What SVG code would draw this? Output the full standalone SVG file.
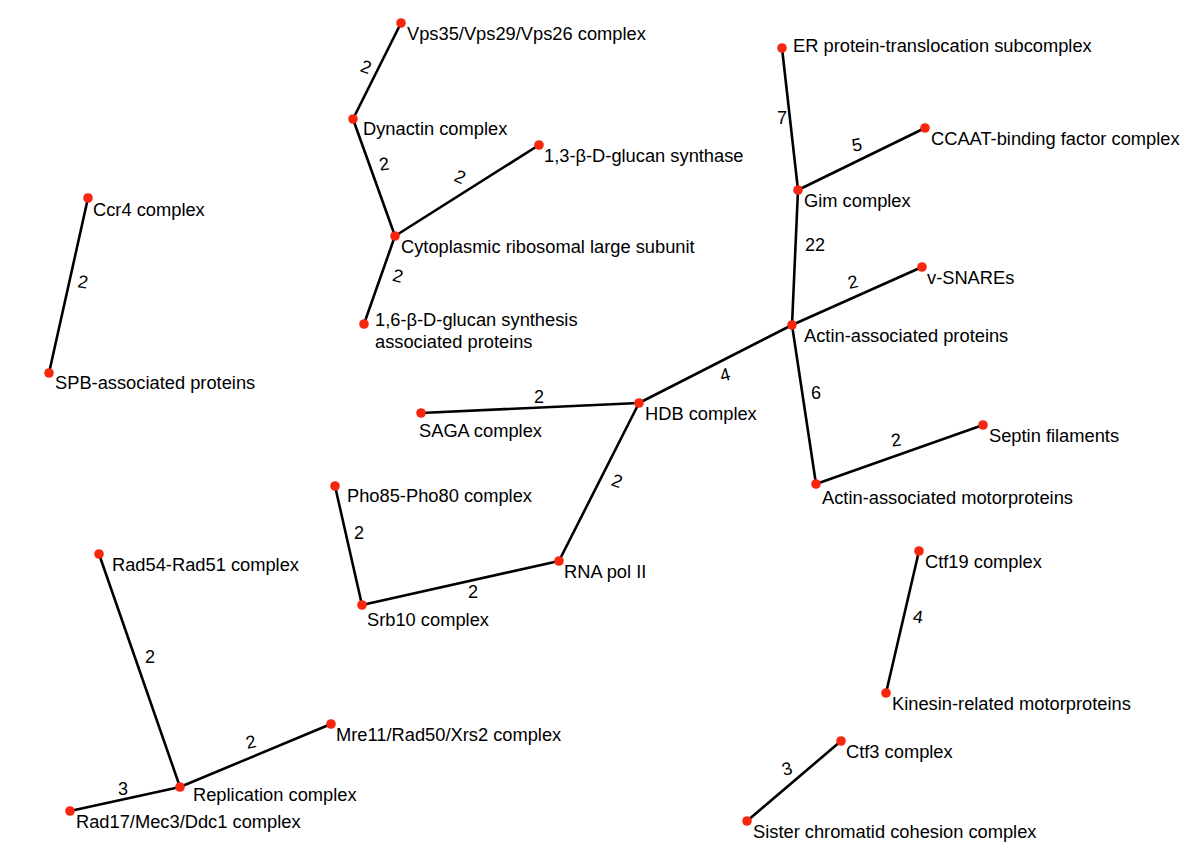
<svg xmlns="http://www.w3.org/2000/svg" width="1200" height="863" viewBox="0 0 1200 863">
<style>
.e{stroke:#000;stroke-width:2.6;fill:none;stroke-linecap:round}
.n{fill:#f5280f}
.t{font-family:"Liberation Sans",Arial,sans-serif;font-size:18.3px;fill:#000}
.w{font-family:"Liberation Sans",Arial,sans-serif;font-size:18px;fill:#000;text-anchor:middle;dominant-baseline:central}
</style>
<rect width="1200" height="863" fill="#fff"/>
<g id="connectors">
<line class="e" x1="401" y1="23" x2="353" y2="119"/>
<line class="e" x1="353" y1="119" x2="395" y2="236"/>
<line class="e" x1="395" y1="236" x2="539" y2="145"/>
<line class="e" x1="395" y1="236" x2="364" y2="324"/>
<line class="e" x1="782" y1="48" x2="798" y2="190"/>
<line class="e" x1="798" y1="190" x2="925" y2="128"/>
<line class="e" x1="798" y1="190" x2="792" y2="325"/>
<line class="e" x1="792" y1="325" x2="922" y2="267"/>
<line class="e" x1="792" y1="325" x2="639" y2="403"/>
<line class="e" x1="792" y1="325" x2="816" y2="484"/>
<line class="e" x1="816" y1="484" x2="983" y2="425"/>
<line class="e" x1="421" y1="413" x2="639" y2="403"/>
<line class="e" x1="639" y1="403" x2="559" y2="561"/>
<line class="e" x1="559" y1="561" x2="362" y2="605"/>
<line class="e" x1="335" y1="486" x2="362" y2="605"/>
<line class="e" x1="99" y1="554" x2="180" y2="787"/>
<line class="e" x1="180" y1="787" x2="331" y2="724"/>
<line class="e" x1="180" y1="787" x2="70" y2="811"/>
<line class="e" x1="919" y1="551" x2="886" y2="693"/>
<line class="e" x1="841" y1="741" x2="747" y2="821"/>
<line class="e" x1="88" y1="198" x2="49" y2="373"/>
<text class="w" transform="translate(366,67) rotate(20)">2</text>
<text class="w" transform="translate(384,164) rotate(-8)">2</text>
<text class="w" transform="translate(460,177) rotate(25)">2</text>
<text class="w" transform="translate(398,276) rotate(15)">2</text>
<text class="w" x="782" y="118">7</text>
<text class="w" transform="translate(857,145) rotate(-10)">5</text>
<text class="w" x="815" y="245">22</text>
<text class="w" transform="translate(853,282) rotate(-12)">2</text>
<text class="w" transform="translate(725,375) rotate(-15)">4</text>
<text class="w" x="816" y="393">6</text>
<text class="w" transform="translate(896,440) rotate(-8)">2</text>
<text class="w" x="539" y="397">2</text>
<text class="w" transform="translate(617,481) rotate(20)">2</text>
<text class="w" x="473" y="592">2</text>
<text class="w" x="359" y="533">2</text>
<text class="w" x="150" y="657">2</text>
<text class="w" transform="translate(251,742) rotate(-12)">2</text>
<text class="w" x="123" y="789">3</text>
<text class="w" transform="translate(918,617) rotate(8)">4</text>
<text class="w" transform="translate(787,769) rotate(-15)">3</text>
<text class="w" transform="translate(83,282) rotate(10)">2</text>
</g>
<g id="vps"><circle class="n" cx="401" cy="23" r="4.8"/><text class="t" x="407" y="40">Vps35/Vps29/Vps26 complex</text></g>
<g id="dynactin"><circle class="n" cx="353" cy="119" r="4.8"/><text class="t" x="363" y="135">Dynactin complex</text></g>
<g id="glucan13"><circle class="n" cx="539" cy="145" r="4.8"/><text class="t" x="544" y="162">1,3-β-D-glucan synthase</text></g>
<g id="cyto"><circle class="n" cx="395" cy="236" r="4.8"/><text class="t" x="401" y="253">Cytoplasmic ribosomal large subunit</text></g>
<g id="glucan16"><circle class="n" cx="364" cy="324" r="4.8"/><text class="t" x="375" y="326">1,6-β-D-glucan synthesis</text><text class="t" x="375" y="348">associated proteins</text></g>
<g id="er"><circle class="n" cx="782" cy="48" r="4.8"/><text class="t" x="793" y="52">ER protein-translocation subcomplex</text></g>
<g id="ccaat"><circle class="n" cx="925" cy="128" r="4.8"/><text class="t" x="931" y="145">CCAAT-binding factor complex</text></g>
<g id="gim"><circle class="n" cx="798" cy="190" r="4.8"/><text class="t" x="804" y="207">Gim complex</text></g>
<g id="vsnare"><circle class="n" cx="922" cy="267" r="4.8"/><text class="t" x="927" y="284">v-SNAREs</text></g>
<g id="actinp"><circle class="n" cx="792" cy="325" r="4.8"/><text class="t" x="804" y="342">Actin-associated proteins</text></g>
<g id="hdb"><circle class="n" cx="639" cy="403" r="4.8"/><text class="t" x="645" y="420">HDB complex</text></g>
<g id="saga"><circle class="n" cx="421" cy="413" r="4.8"/><text class="t" x="419" y="437">SAGA complex</text></g>
<g id="septin"><circle class="n" cx="983" cy="425" r="4.8"/><text class="t" x="989" y="442">Septin filaments</text></g>
<g id="actinm"><circle class="n" cx="816" cy="484" r="4.8"/><text class="t" x="822" y="504">Actin-associated motorproteins</text></g>
<g id="rnapol"><circle class="n" cx="559" cy="561" r="4.8"/><text class="t" x="564" y="578">RNA pol II</text></g>
<g id="pho85"><circle class="n" cx="335" cy="486" r="4.8"/><text class="t" x="347" y="502">Pho85-Pho80 complex</text></g>
<g id="srb10"><circle class="n" cx="362" cy="605" r="4.8"/><text class="t" x="367" y="626">Srb10 complex</text></g>
<g id="rad54"><circle class="n" cx="99" cy="554" r="4.8"/><text class="t" x="112" y="571">Rad54-Rad51 complex</text></g>
<g id="mre11"><circle class="n" cx="331" cy="724" r="4.8"/><text class="t" x="336" y="741">Mre11/Rad50/Xrs2 complex</text></g>
<g id="replication"><circle class="n" cx="180" cy="787" r="4.8"/><text class="t" x="193" y="801">Replication complex</text></g>
<g id="rad17"><circle class="n" cx="70" cy="811" r="4.8"/><text class="t" x="76" y="828">Rad17/Mec3/Ddc1 complex</text></g>
<g id="ctf19"><circle class="n" cx="919" cy="551" r="4.8"/><text class="t" x="925" y="568">Ctf19 complex</text></g>
<g id="kinesin"><circle class="n" cx="886" cy="693" r="4.8"/><text class="t" x="892" y="710">Kinesin-related motorproteins</text></g>
<g id="ctf3"><circle class="n" cx="841" cy="741" r="4.8"/><text class="t" x="846" y="758">Ctf3 complex</text></g>
<g id="sister"><circle class="n" cx="747" cy="821" r="4.8"/><text class="t" x="753" y="838">Sister chromatid cohesion complex</text></g>
<g id="ccr4"><circle class="n" cx="88" cy="198" r="4.8"/><text class="t" x="93" y="216">Ccr4 complex</text></g>
<g id="spb"><circle class="n" cx="49" cy="373" r="4.8"/><text class="t" x="55" y="389">SPB-associated proteins</text></g>
</svg>
